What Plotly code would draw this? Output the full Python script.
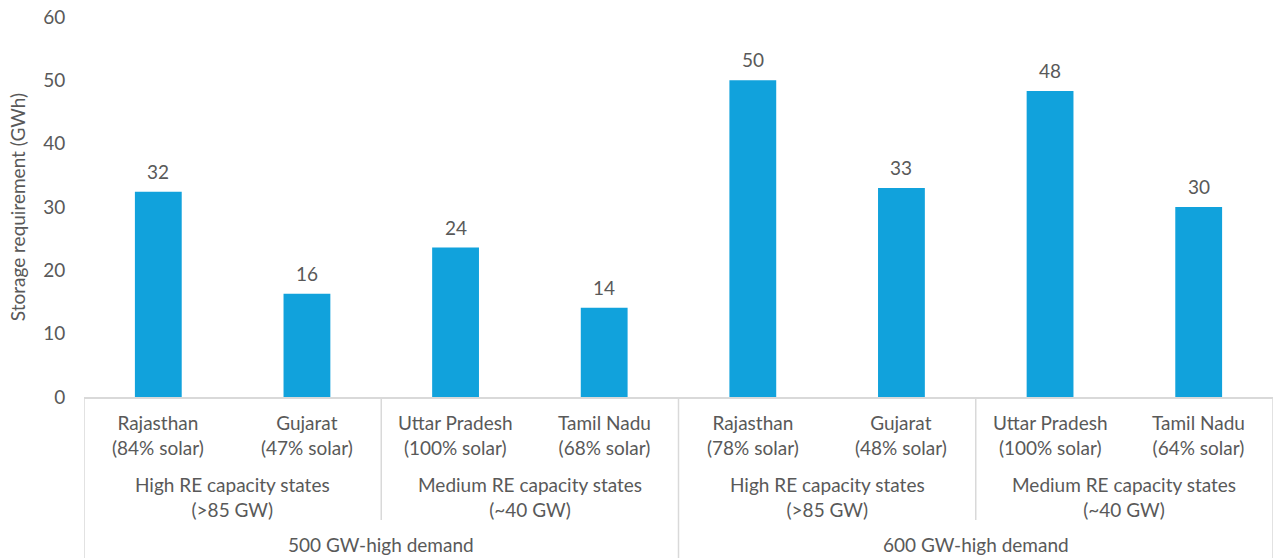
import plotly.graph_objects as go

# ---- data ----
scenarios = ["500 GW-high demand", "600 GW-high demand"]
groups = ["High RE capacity states<br>(>85 GW)", "Medium RE capacity states<br>(~40 GW)"]
states = ["Rajasthan", "Gujarat", "Uttar Pradesh", "Tamil Nadu",
          "Rajasthan", "Gujarat", "Uttar Pradesh", "Tamil Nadu"]
solar_share = [84, 47, 100, 68, 78, 48, 100, 64]
storage_gwh = [32.4, 16.3, 23.6, 14.1, 50.0, 33.0, 48.3, 30.0]

cat_labels = [f"{s}<br>({p}% solar)" for s, p in zip(states, solar_share)]
x_idx = list(range(len(states)))

TEXT = "#595959"
LINE = "#D9D9D9"
FONT = "Lato"
FS = 19

fig = go.Figure()
fig.add_trace(go.Bar(
    x=x_idx, y=storage_gwh,
    marker=dict(color="#11A2DC", line=dict(width=0)),
    width=0.315, hoverinfo="y",
))

annotations = []
# data labels above bars
for i, v in zip(x_idx, storage_gwh):
    annotations.append(dict(x=i, y=v, xref="x", yref="y", text=f"{v:.0f}",
                            showarrow=False, yanchor="bottom", yshift=7,
                            font=dict(size=FS, color=TEXT, family=FONT)))
# level 1: state labels
for i, lab in enumerate(cat_labels):
    annotations.append(dict(x=i, y=-0.1, xref="x", yref="paper", text=lab,
                            showarrow=False, yanchor="middle",
                            font=dict(size=FS, color=TEXT, family=FONT)))
# level 2: group labels (pairs)
n_per_group = 2
n_groups_total = len(states) // n_per_group
for g in range(n_groups_total):
    cx = g * n_per_group + (n_per_group - 1) / 2
    annotations.append(dict(x=cx, y=-0.263, xref="x", yref="paper",
                            text=groups[g % len(groups)], showarrow=False,
                            yanchor="middle",
                            font=dict(size=FS, color=TEXT, family=FONT)))
# level 3: scenario labels
n_per_scen = len(states) // len(scenarios)
for s, name in enumerate(scenarios):
    cx = s * n_per_scen + (n_per_scen - 1) / 2
    annotations.append(dict(x=cx, y=-0.389, xref="x", yref="paper",
                            text=name, showarrow=False, yanchor="middle",
                            font=dict(size=FS, color=TEXT, family=FONT)))

shapes = []
# scenario separators (full height)
for s in range(len(scenarios) + 1):
    xb = s * n_per_scen - 0.5
    shapes.append(dict(type="line", xref="x", yref="paper", x0=xb, x1=xb,
                       y0=0, y1=-0.43, line=dict(color=LINE, width=1.5)))
# group separators (inner)
for g in range(n_groups_total):
    xb = g * n_per_group - 0.5
    if (g * n_per_group) % n_per_scen != 0:
        shapes.append(dict(type="line", xref="x", yref="paper", x0=xb, x1=xb,
                           y0=0, y1=-0.324, line=dict(color=LINE, width=1.5)))

fig.update_layout(
    width=1279, height=558,
    margin=dict(l=84, r=6, t=17, b=161, autoexpand=False),
    paper_bgcolor="white", plot_bgcolor="white",
    showlegend=False,
    font=dict(family=FONT, color=TEXT),
    annotations=annotations, shapes=shapes,
    xaxis=dict(range=[-0.5, len(states) - 0.5], showticklabels=False,
               showgrid=False, zeroline=False, showline=True,
               linecolor=LINE, linewidth=1.5, ticks=""),
    yaxis=dict(range=[0, 60], dtick=10, showgrid=False, zeroline=False,
               showline=False, ticks="outside", ticklen=14,
               tickcolor="rgba(0,0,0,0)", ticklabeloverflow="allow",
               tickfont=dict(size=FS, color=TEXT, family=FONT),
               title=dict(text="Storage requirement (GWh)",
                          font=dict(size=19, color=TEXT, family=FONT),
                          standoff=12)),
)

# remove the browser's default 8px page margin so the figure fills the window
fig.write_html(
    "out.html",
    config={"displayModeBar": False},
    post_script="document.body.style.margin='0';document.body.style.overflow='hidden';",
)
